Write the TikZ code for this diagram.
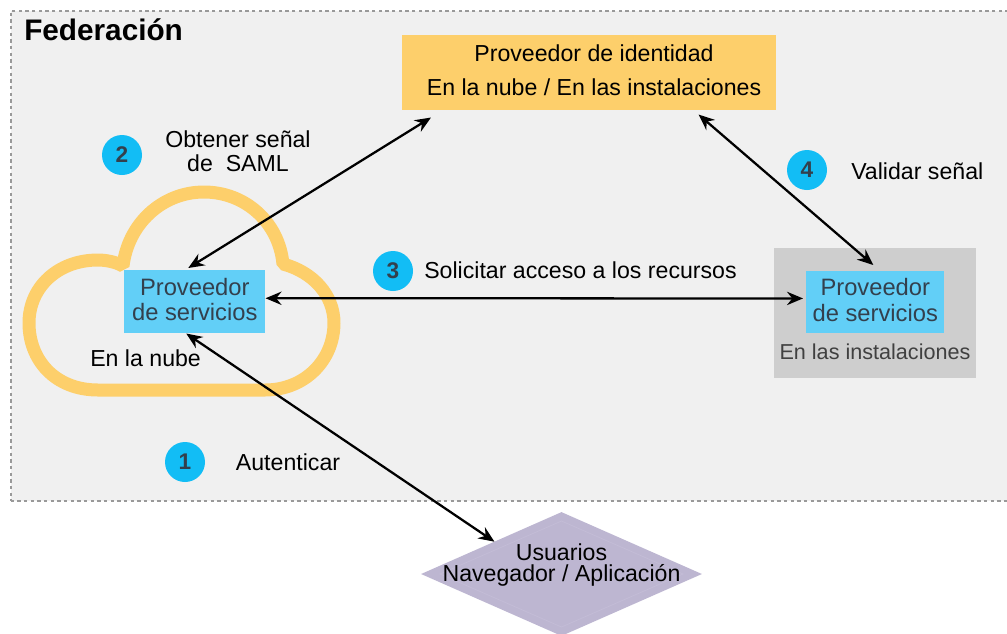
\documentclass[tikz,border=0pt]{standalone}
\usepackage{fontspec}
\setmainfont{Liberation Sans}
\usetikzlibrary{arrows.meta,calc,shapes.geometric}
\definecolor{panel}{HTML}{F0F0F0}
\definecolor{panelline}{HTML}{999999}
\definecolor{idpfill}{HTML}{FDCF6B}
\definecolor{skyfill}{HTML}{62CFF7}
\definecolor{grayfill}{HTML}{CECECE}
\definecolor{lilac}{HTML}{BDB6D1}
\definecolor{lilacline}{HTML}{C3BCD6}
\definecolor{numfill}{HTML}{12BDF5}
\definecolor{inkb}{HTML}{33404D}
\definecolor{inkg}{HTML}{404040}
\tikzset{
  x=0.75pt,y=-0.75pt,
  txt/.style={inner sep=0pt,font=\fontsize{17.35}{18.8}\selectfont,text=black,align=center},
  numdot/.style={circle,fill=numfill,minimum size=30pt,inner sep=0pt,text=inkb,font=\fontsize{17}{19}\selectfont\bfseries},
  spbox/.style={rectangle,fill=skyfill,inner sep=0pt,text=inkb,align=center,text depth=3pt,font=\fontsize{17.8}{18.9}\selectfont},
  link/.style={draw=black,line width=1.7pt,{Stealth[length=12pt,width=10pt,inset=4pt]}-{Stealth[length=12pt,width=10pt,inset=4pt]}}
}
\begin{document}
\begin{tikzpicture}
\useasboundingbox (0,0) rectangle (1007,633);
\fill[white] (0,0) rectangle (1007,633);
\node[rectangle,draw=panelline,fill=panel,line width=1.2pt,dash pattern=on 2.5pt off 2.5pt,inner sep=0pt,minimum width=748pt,minimum height=367.5pt,anchor=north west] (panelbox) at (10,10) {};
\node[inner sep=0pt,anchor=west,font=\fontsize{22.3}{24}\selectfont\bfseries] (fedtitle) at (24,30) {Federación};

\node[rectangle,fill=idpfill,inner sep=0pt,minimum width=280.5pt,minimum height=56.25pt,anchor=north west] (idp) at (402,35) {};
\node[txt] (idpa) at (594,53) {Proveedor de identidad};
\node[txt] (idpb) at (594,87) {En la nube / En las instalaciones};

\draw[idpfill,line width=9.75pt,line join=bevel]
  (98,390) .. controls (55,390) and (29,360) .. (29,323)
  .. controls (29,287) and (58,260) .. (98,260)
  .. controls (106,260) and (116,262) .. (123,266)
  .. controls (128,224) and (162,192) .. (204,192)
  .. controls (245,192) and (279,222) .. (283,264)
  .. controls (313,272) and (334,295) .. (334,323)
  .. controls (334,360) and (305,390) .. (265,390) -- cycle;
\node[spbox,minimum width=105.75pt,minimum height=47.25pt,anchor=north west] (spcloud) at (124,270) {Proveedor\\de servicios};
\node[txt,anchor=west] (nube) at (90,358) {En la nube};

\node[rectangle,fill=grayfill,inner sep=0pt,minimum width=151.5pt,minimum height=97.5pt,anchor=north west] (onprem) at (774,248) {};
\node[spbox,minimum width=103.5pt,minimum height=46pt,anchor=north west] (spprem) at (806,271) {Proveedor\\de servicios};
\node[txt,text=inkg,font=\fontsize{16.2}{18}\selectfont] (inst) at (875,352) {En las instalaciones};

\node[diamond,fill=lilac,inner sep=0pt,aspect=2.27,minimum width=210.75pt,minimum height=93pt] (users) at (561.5,574) {};
\draw[lilacline,line width=0.6pt] (561.5,521) -- (683,574) -- (561.5,627) -- (440,574) -- cycle;
\node[txt] (usersa) at (561.5,552) {Usuarios};
\node[txt] (usersb) at (561.5,575) {Navegador / Aplicación};

\node[numdot] (n1) at (185,462) {1};
\node[numdot] (n2) at (122,155) {2};
\node[numdot] (n3) at (393,271) {3};
\node[numdot] (n4) at (807,170) {4};
\node[txt] (lbla) at (288,462) {Autenticar};
\node[txt] (lblb) at (238,151) {Obtener señal\\[-0.5pt]de\ \ SAML};
\node[txt,anchor=west] (lblc) at (424,270) {Solicitar acceso a los recursos};
\node[txt,anchor=west] (lbld) at (851,171) {Validar señal};

\draw[link] ($(idp.south west)+(29,7)$) -- ($(spcloud.north)+(-6.5,-2)$);
\draw[link] ($(spcloud.east)+(0,-3.5)$) -- ($(spprem.west)+(-3,-3.5)$);
\draw[link] ($(idp.south east)+(-78,4)$) -- ($(spprem.north)+(-2,-6)$);
\draw[link] ($(spcloud.south)+(-8.5,0)$) -- ($(users.north)+(-67,30)$);
\end{tikzpicture}
\end{document}
